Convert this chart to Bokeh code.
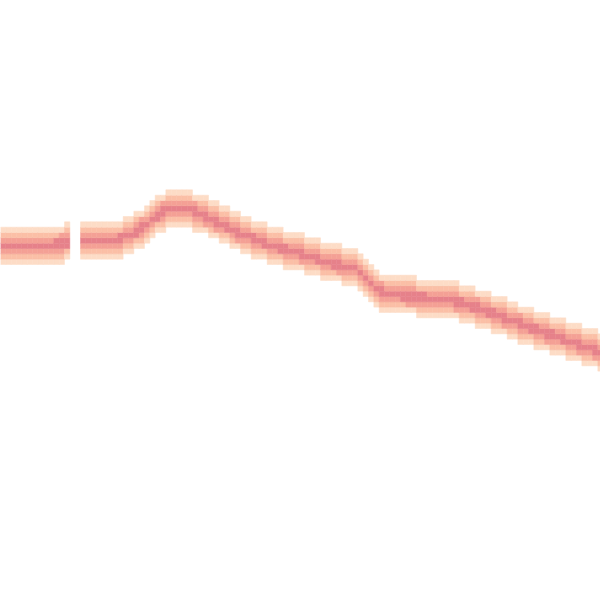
import math
from bokeh.plotting import figure
from bokeh.models import Range1d, ColumnDataSource
from bokeh.embed import file_html
from bokeh.resources import INLINE

# Binned time series: one value per time column (height from the bottom, chart units).
# None = empty columns (gap in the series).
column_index = list(range(113))
line_value = [
    355, 355, 355, 355, 355, 355, 355, 356, 356, 356,
    356.5, 357, 358, None, None, 360, 360, 360, 360, 360,
    361, 361, 362, 364, 366, 369, 373, 377, 381, 385,
    389, 392, 393, 393, 393, 391, 389, 387, 384, 382,
    379, 376, 374, 371, 368, 366, 364, 362, 360, 358,
    356, 355, 353, 351, 350, 348, 347, 345, 343, 342,
    340, 339, 337, 336, 334, 333, 332, 328, 322, 316,
    312, 309, 308, 307, 306, 305, 304, 304, 303, 303,
    302, 302, 301, 301, 300, 299, 298, 296, 294, 293,
    291, 289, 287, 285, 283, 281, 279, 277, 275, 273,
    271, 269, 267, 266, 264, 262, 260, 258, 256, 254,
    252, 251, 249,
]
# density levels (darkest at the series value, lighter further away)
level_colors = ["#e6818a", "#f4a095", "#fbbfa6", "#fddcc6"]
level_limits = [0.7, 1.6, 2.5, 3.5]

CELL_W = 1.0          # one time column
CELL_H = 600 / 112.5  # value bin height

xs, ys, cols = [], [], []
for i, v in zip(column_index, line_value):
    if v is None:
        continue
    k0 = int(math.floor(v / CELL_H))
    for k in range(k0 - 5, k0 + 6):
        d = abs((k + 0.5) * CELL_H - v) / CELL_H
        for lim, c in zip(level_limits, level_colors):
            if d < lim:
                xs.append(i + 0.5)
                ys.append((k + 0.5) * CELL_H)
                cols.append(c)
                break

src = ColumnDataSource(dict(x=xs, y=ys, c=cols))

p = figure(width=600, height=600, output_backend="svg", toolbar_location=None,
           x_range=Range1d(0, 112.5), y_range=Range1d(0, 600), min_border=0)
p.axis.visible = False
p.grid.visible = False
p.outline_line_color = None
p.background_fill_color = "white"
p.border_fill_color = "white"

p.rect(x="x", y="y", width=CELL_W, height=CELL_H, source=src,
       fill_color="c", line_color="c", line_width=0.5)

open("out.html", "w").write(file_html(p, INLINE))
